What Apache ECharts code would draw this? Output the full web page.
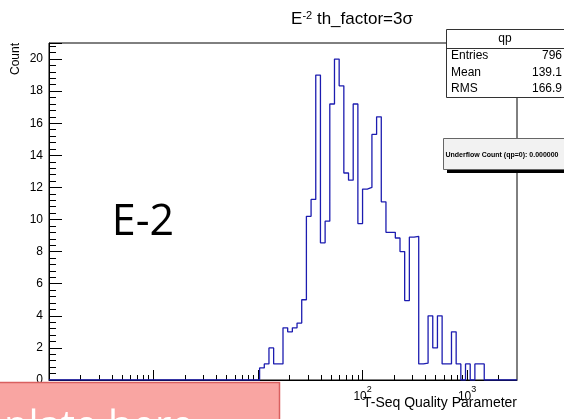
<!DOCTYPE html>
<html><head><meta charset="utf-8">
<script src="https://cdn.jsdelivr.net/npm/echarts@6/dist/echarts.min.js"></script>
<style>html,body{margin:0;padding:0;background:#fff}#c{width:564px;height:419px}</style>
</head><body><div id="c"></div>
<script>
// ---- data ----
const xMin = 0.1, xMax = 3000, nBins = 100;
const firstBin = 45;
const counts = [0.75, 1.0, 2.0, 1.0, 1.0, 3.25, 3.0, 3.25, 3.55, 5.0,
  10.2, 11.25, 19.0, 8.55, 9.9, 17.2, 20.0, 18.33, 12.9, 12.45,
  17.2, 9.75, 11.9, 12.0, 15.3, 16.4, 11.1, 9.2, 9.2, 8.85,
  8.0, 4.95, 8.9, 8.95, 1.0, 1.05, 4.0, 2.0, 4.0, 1.0,
  1.0, 3.0, 1.0, 0, 1.0, 0, 1.0, 1.0];
const yMin = 0, yMax = 21, yInterval = 2;
const xMajorTicks = [1, 10, 100, 1000];
const xLabelTicks = [100, 1000];
const statsNames = ['Entries', 'Mean', 'RMS'];
const statsValues = ['796', '139.1', '166.9'];
const histName = 'qp';
const underflowText = 'Underflow Count (qp=0): 0.000000';

// ---- build ----
const lo = Math.log10(xMin), step = (Math.log10(xMax) - lo) / nBins;
const edge = i => Math.pow(10, lo + i * step);
const pts = [[edge(0), 0]];
for (let i = 0; i < nBins; i++) {
  const j = i - firstBin;
  const v = (j >= 0 && j < counts.length) ? counts[j] : 0;
  pts.push([edge(i), v], [edge(i + 1), v]);
}
pts.push([edge(nBins), 0]);
const xMinorTicks = [];
for (let d = -1; d <= 3; d++) for (let m = 2; m <= 9; m++) {
  const v = m * Math.pow(10, d);
  if (v < xMax) xMinorTicks.push(v);
}
const FONT = 'Liberation Sans';

const chart = echarts.init(document.getElementById('c'), null, {renderer: 'canvas'});
const statsGroup = [
  {type: 'rect', shape: {x: 446.5, y: 29.5, width: 125, height: 68}, style: {fill: '#fff', stroke: '#333', lineWidth: 1}},
  {type: 'line', shape: {x1: 446.5, y1: 48.5, x2: 564, y2: 48.5}, style: {stroke: '#333', lineWidth: 1}},
  {type: 'text', x: 505, y: 39, style: {text: histName, font: '12px ' + FONT, fill: '#000', align: 'center', verticalAlign: 'middle'}}
];
statsNames.forEach((n, i) => {
  statsGroup.push({type: 'text', x: 451, y: 56 + i * 16.5, style: {text: n, font: '12px ' + FONT, fill: '#000', align: 'left', verticalAlign: 'middle'}});
  statsGroup.push({type: 'text', x: 562, y: 56 + i * 16.5, style: {text: statsValues[i], font: '12px ' + FONT, fill: '#000', align: 'right', verticalAlign: 'middle'}});
});

chart.setOption({
  animation: false,
  grid: {left: 49, right: 47, top: 43, bottom: 39, outerBoundsMode: 'none', containLabel: false,
    show: true, borderColor: '#000', borderWidth: 1, backgroundColor: 'transparent'},
  xAxis: [{
    type: 'log', logBase: 10, min: xMin, max: xMax,
    name: 'T-Seq Quality Parameter', nameLocation: 'end', nameGap: 0, nameMoveOverlap: false,
    nameTextStyle: {fontFamily: FONT, fontSize: 14, color: '#000', align: 'right', verticalAlign: 'top', padding: [16, 0, 0, 0]},
    axisLine: {show: true, lineStyle: {color: '#000', width: 1}},
    axisTick: {show: true, inside: true, length: 10, customValues: xMajorTicks, lineStyle: {color: '#000'}},
    axisLabel: {customValues: xLabelTicks, margin: 5, fontFamily: FONT, color: '#000',
      formatter: v => '{b|10}{s|' + Math.round(Math.log10(v)) + '}',
      rich: {b: {fontSize: 12, fontFamily: FONT, color: '#000', padding: [6, 0, 0, 0]}, s: {fontSize: 9, fontFamily: FONT, color: '#000', verticalAlign: 'top'}}},
    splitLine: {show: false}
  }, {
    type: 'log', logBase: 10, min: xMin, max: xMax, position: 'bottom',
    axisLine: {show: false},
    axisTick: {show: true, inside: true, length: 5, customValues: xMinorTicks, lineStyle: {color: '#000'}},
    axisLabel: {show: false}, splitLine: {show: false}
  }],
  yAxis: {
    type: 'value', min: yMin, max: yMax, interval: yInterval,
    name: 'Count', nameLocation: 'end', nameRotate: 90, nameGap: 0,
    nameTextStyle: {fontFamily: FONT, fontSize: 12, color: '#000', align: 'right', verticalAlign: 'bottom', padding: [0, 0, 27, 0]},
    axisLine: {show: true, lineStyle: {color: '#000', width: 1}},
    axisTick: {show: true, inside: true, length: 13, lineStyle: {color: '#000'}},
    minorTick: {show: true, splitNumber: 5, length: 7, lineStyle: {color: '#000'}},
    axisLabel: {margin: 6, fontFamily: FONT, fontSize: 12, color: '#000', showMaxLabel: false,
      formatter: v => (v % 2 === 0 ? String(v) : '')},
    splitLine: {show: false}
  },
  series: [{
    type: 'line', name: histName, data: pts, xAxisIndex: 0, yAxisIndex: 0,
    showSymbol: false, symbol: 'none', lineStyle: {color: '#1c1cb0', width: 1.3}, z: 3
  }],
  graphic: [
    {type: 'text', x: 352, y: 19, z: 10, style: {
      rich: {b: {fontSize: 17, fontFamily: FONT, fill: '#000'}, s: {fontSize: 11, fontFamily: FONT, fill: '#000', verticalAlign: 'top'}},
      text: '{b|E}{s|-2}{b| th_factor=3σ}', align: 'center', verticalAlign: 'middle'}},
    {type: 'group', z: 20, children: statsGroup},
    {type: 'rect', z: 20, shape: {x: 447, y: 142, width: 130, height: 31}, style: {fill: '#000'}},
    {type: 'rect', z: 21, shape: {x: 443.5, y: 138.5, width: 130, height: 31}, style: {fill: '#f2f2f2', stroke: '#666', lineWidth: 1}},
    {type: 'text', z: 22, x: 445.5, y: 155, style: {text: underflowText, font: 'bold 7px ' + FONT, fill: '#000', align: 'left', verticalAlign: 'middle'}},
    {type: 'text', z: 10, x: 143, y: 223, style: {text: 'E-2', font: '43px "Open Sans"', fill: '#000', align: 'center', verticalAlign: 'middle'}},
    {type: 'rect', z: 30, shape: {x: -2, y: 382.5, width: 281.5, height: 40}, style: {fill: '#f9a5a2', stroke: '#d96060', lineWidth: 1.5}},
    {type: 'text', z: 31, x: 4, y: 428, style: {text: 'plate here', font: '40px "Open Sans"', fill: '#fff', align: 'left', verticalAlign: 'middle'}}
  ]
});
</script></body></html>
